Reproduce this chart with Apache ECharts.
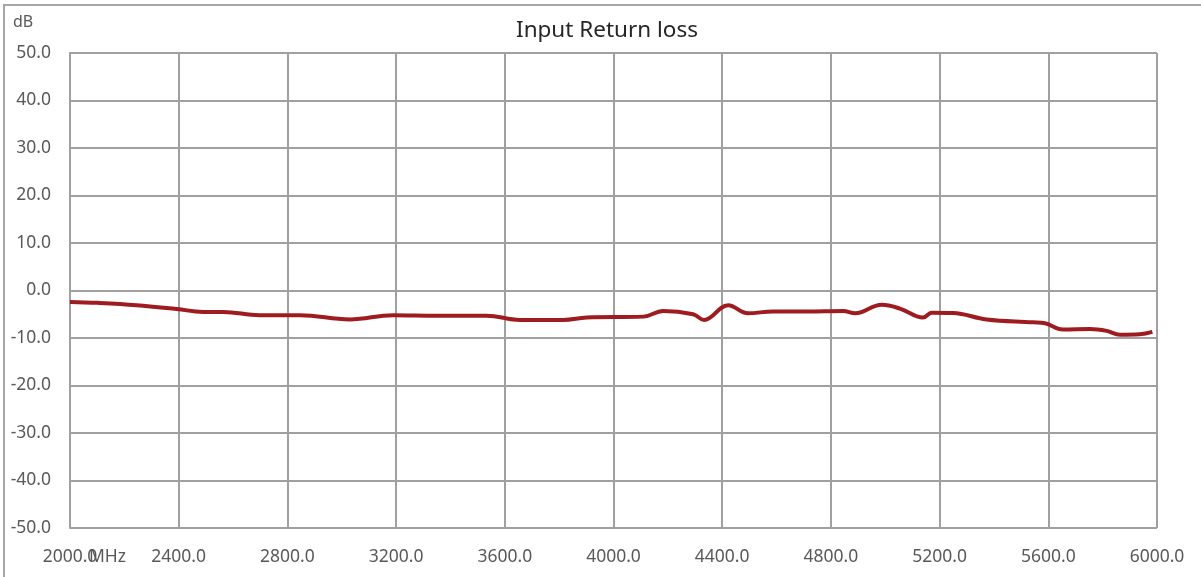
<!DOCTYPE html>
<html>
<head>
<meta charset="utf-8">
<title>Input Return loss</title>
<script src="https://cdn.jsdelivr.net/npm/echarts@6/dist/echarts.min.js"></script>
<style>
  html, body { margin: 0; padding: 0; background: #fff; }
  #chart { width: 1201px; height: 577px; }
</style>
</head>
<body>
<div id="chart"></div>
<script>
// frequency (MHz) and return loss (dB)
const freqMHz = [
  2000, 2100, 2245, 2393, 2490, 2563, 2698, 2846, 3030, 3189, 3350,
  3533, 3656, 3815, 3901, 4110, 4183, 4293, 4333, 4422, 4495,
  4587, 4711, 4845, 4889, 4987, 5054, 5139, 5171, 5249, 5373,
  5544, 5588, 5654, 5753, 5815, 5864, 5937, 5983
]
const returnLoss = [
  -2.4, -2.6, -3.1, -3.9, -4.5, -4.5, -5.2, -5.2, -6.1, -5.2, -5.3,
  -5.3, -6.2, -6.2, -5.7, -5.5, -4.3, -5.0, -6.2, -3.1, -4.8,
  -4.4, -4.4, -4.3, -4.8, -3.0, -3.8, -5.7, -4.7, -4.75, -6.1,
  -6.7, -6.9, -8.2, -8.1, -8.5, -9.3, -9.2, -8.7
]

const gridColor = '#a0a0a0'
const textColor = '#595959'
const font = '"Noto Sans", "Open Sans", sans-serif'

const chart = echarts.init(document.getElementById('chart'))

chart.setOption({
  backgroundColor: '#fff',
  animation: false,
  title: {
    text: 'Input Return loss',
    left: 511,
    top: 14,
    textStyle: { color: '#262626', fontSize: 22.5, fontWeight: 'normal', fontFamily: font }
  },
  graphic: [
    {
      type: 'rect',
      shape: { x: 4, y: 5, width: 1250, height: 650 },
      style: { fill: 'none', stroke: '#a6a6a6', lineWidth: 2 },
      silent: true
    },
    {
      type: 'text',
      left: 13,
      top: 14,
      style: { text: 'dB', fill: textColor, fontSize: 16, fontFamily: font }
    },
    {
      type: 'text',
      left: 89,
      top: 548,
      style: { text: 'MHz', fill: textColor, fontSize: 17.5, fontFamily: font }
    }
  ],
  grid: {
    left: 70,
    right: 44,
    top: 53,
    bottom: 49
  },
  xAxis: {
    type: 'value',
    min: 2000,
    max: 6000,
    interval: 400,
    axisLine: { show: true, lineStyle: { color: gridColor, width: 2 } },
    axisTick: { show: false },
    splitLine: { show: true, lineStyle: { color: gridColor, width: 2 } },
    axisLabel: {
      color: textColor,
      fontSize: 17.5,
      fontFamily: font,
      margin: 20,
      formatter: v => v.toFixed(1)
    }
  },
  yAxis: {
    type: 'value',
    min: -50,
    max: 50,
    interval: 10,
    axisLine: { show: true, lineStyle: { color: gridColor, width: 2 } },
    axisTick: { show: false },
    splitLine: { show: true, lineStyle: { color: gridColor, width: 2 } },
    axisLabel: {
      color: textColor,
      fontSize: 17.5,
      fontFamily: font,
      margin: 19,
      formatter: v => v.toFixed(1)
    }
  },
  series: [
    {
      type: 'line',
      data: freqMHz.map((f, i) => [f, returnLoss[i]]),
      smooth: 0.4,
      showSymbol: false,
      lineStyle: { color: '#9e1c20', width: 4 },
      z: 3
    }
  ]
})
</script>
</body>
</html>
